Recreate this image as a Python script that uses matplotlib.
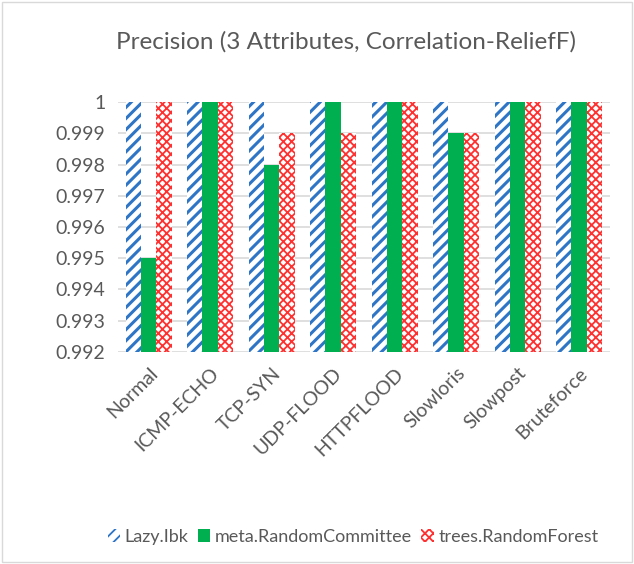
import numpy as np
import matplotlib.pyplot as plt
from matplotlib.patches import Rectangle

categories = ["Normal", "ICMP-ECHO", "TCP-SYN", "UDP-FLOOD", "HTTPFLOOD",
              "Slowloris", "Slowpost", "Bruteforce"]
lazy_ibk = [1.0, 1.0, 1.0, 1.0, 1.0, 1.0, 1.0, 1.0]
random_committee = [0.995, 1.0, 0.998, 1.0, 1.0, 0.999, 1.0, 1.0]
random_forest = [1.0, 1.0, 0.999, 0.999, 1.0, 0.999, 1.0, 1.0]
yticks = [0.992, 0.993, 0.994, 0.995, 0.996, 0.997, 0.998, 0.999, 1]

plt.rcParams['font.family'] = ['Lato', 'DejaVu Sans']

fig = plt.figure(figsize=(6.34, 5.64), dpi=100)
ax = fig.add_axes([0.186, 0.376, 0.776, 0.443])

base = 0.992
x = np.arange(len(categories))
w = 0.25

plt.rcParams['hatch.linewidth'] = 2.2
ax.bar(x - w, np.array(lazy_ibk) - base, w, bottom=base, color='white',
       edgecolor='#2e75c6', hatch='///', linewidth=0, label='Lazy.Ibk', zorder=3)
ax.bar(x, np.array(random_committee) - base, w, bottom=base, color='#00b050',
       edgecolor='#00b050', linewidth=0, label='meta.RandomCommittee', zorder=4)
plt.rcParams['hatch.linewidth'] = 1.3
ax.bar(x + w, np.array(random_forest) - base, w, bottom=base, color='white',
       edgecolor='#ff3030', hatch='xxxx', linewidth=0, label='trees.RandomForest', zorder=3)

ax.set_ylim(base, 1.0)
ax.set_xlim(-0.5, len(categories) - 0.5)
ax.set_yticks(yticks)
ax.set_yticklabels([str(t) for t in yticks])
ax.set_xticks(x)
ax.set_xticklabels(categories, rotation=45, ha='right', rotation_mode='anchor')
ax.tick_params(axis='both', length=0, labelsize=14, colors='#595959', pad=9)
ax.grid(axis='y', color='#d9d9d9', linewidth=1.2, zorder=0)
for s in ax.spines.values():
    s.set_visible(False)

fig.suptitle('Precision (3 Attributes, Correlation-ReliefF)', x=0.546, y=0.925,
             va='center', fontsize=17.5, color='#595959')

fig.legend(loc='center', bbox_to_anchor=(353 / 634, 1 - 537 / 564), ncol=3, frameon=False,
           fontsize=13, labelcolor='#595959', handlelength=0.7, handleheight=0.7,
           handletextpad=0.25, columnspacing=0.5)

fig.patches.append(Rectangle((0.003, 0.003), 0.994, 0.994, transform=fig.transFigure,
                             fill=False, edgecolor='#d9d9d9', linewidth=1))

fig.savefig('out.png', dpi=100)
